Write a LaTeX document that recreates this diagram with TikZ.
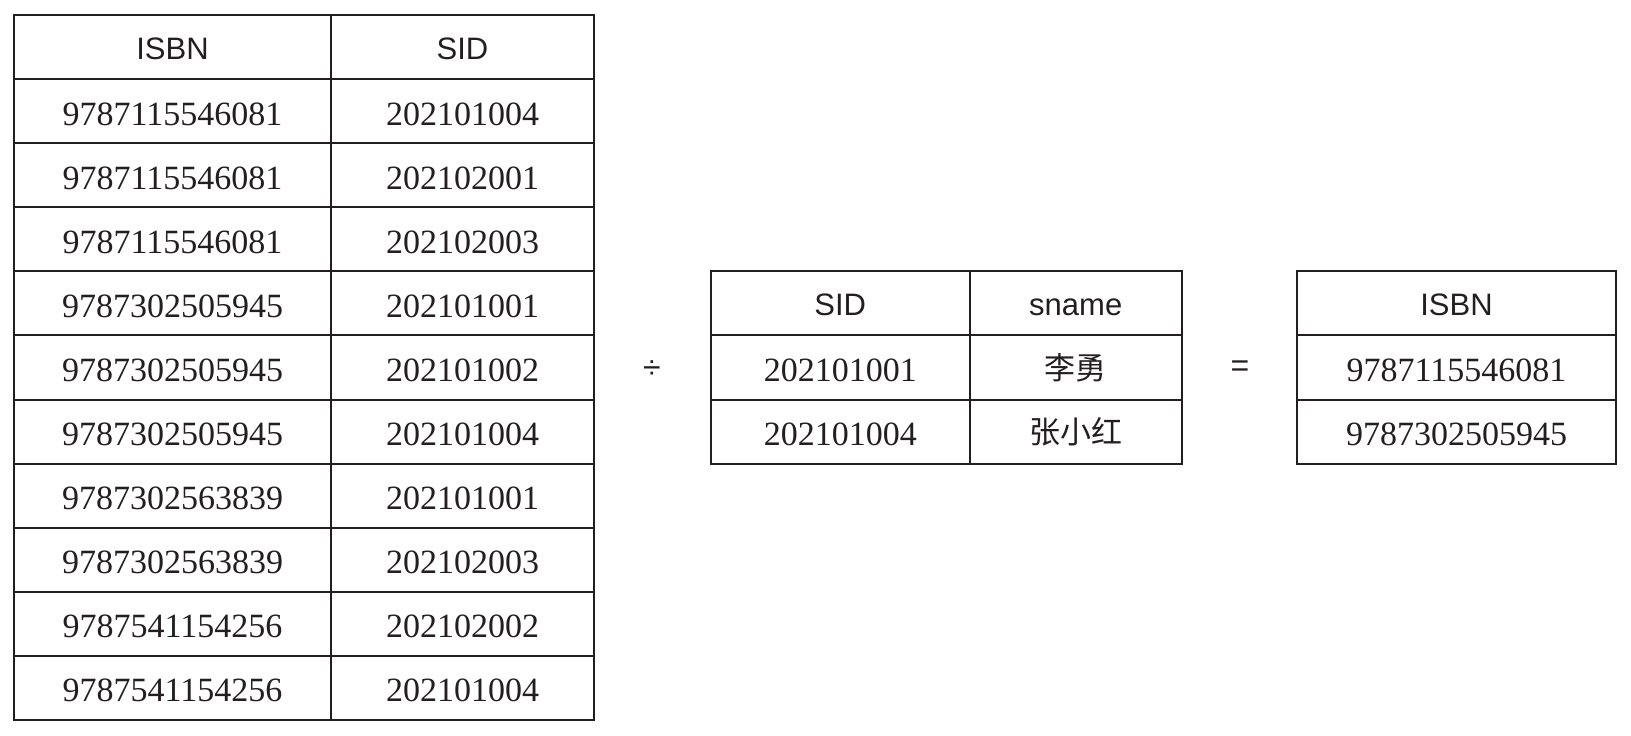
\documentclass[tikz,border=0pt]{standalone}
\usepackage{fontspec}
\setmainfont{Liberation Serif}
\setsansfont{Liberation Sans}
\newfontfamily\cjk{Noto Sans CJK SC}
\definecolor{ink}{HTML}{231F20}
\begin{document}
\begin{tikzpicture}[x=1pt,y=-1pt,
  cell/.style={draw=ink, line width=2pt, rectangle, inner sep=0pt, outer sep=0pt,
    minimum height=64.09pt, text=ink, anchor=center},
  hd/.style={font=\sffamily\fontsize{31}{36}\selectfont, text height=24pt, text depth=0pt},
  num/.style={font=\rmfamily\fontsize{34}{38}\selectfont, text height=28pt, text depth=0pt},
  zh/.style={font=\cjk\fontsize{31}{36}\selectfont},
  op/.style={text=ink, inner sep=0pt, font=\sffamily\fontsize{32}{36}\selectfont}]
\useasboundingbox (0,0) rectangle (1631,736);
% left table
\def\rh{64.09}
\node[cell,hd,minimum width=317pt] (L0a) at (172.5,{15+0.5*\rh}) {ISBN};
\node[cell,hd,minimum width=263pt] (L0b) at (462.5,{15+0.5*\rh}) {SID};
\foreach \i/\a/\b in {1/9787115546081/202101004,2/9787115546081/202102001,
  3/9787115546081/202102003,4/9787302505945/202101001,5/9787302505945/202101002,
  6/9787302505945/202101004,7/9787302563839/202101001,8/9787302563839/202102003,
  9/9787541154256/202102002,10/9787541154256/202101004}{
  \node[cell,num,minimum width=317pt] (L\i a) at (172.5,{15+(\i+0.5)*\rh}) {\a};
  \node[cell,num,minimum width=263pt] (L\i b) at (462.5,{15+(\i+0.5)*\rh}) {\b};
}
% middle table
\node[cell,hd,minimum width=258.5pt] (M0a) at (840.25,{15+4.5*\rh}) {SID};
\node[cell,hd,minimum width=212.5pt] (M0b) at (1075.75,{15+4.5*\rh}) {sname};
\node[cell,num,minimum width=258.5pt] (M1a) at (840.25,{15+5.5*\rh}) {202101001};
\node[cell,zh,minimum width=212.5pt] (M1b) at (1075.75,{15+5.5*\rh}) {李勇};
\node[cell,num,minimum width=258.5pt] (M2a) at (840.25,{15+6.5*\rh}) {202101004};
\node[cell,zh,minimum width=212.5pt] (M2b) at (1075.75,{15+6.5*\rh}) {张小红};
% right table
\node[cell,hd,minimum width=319pt] (R0) at (1456.5,{15+4.5*\rh}) {ISBN};
\node[cell,num,minimum width=319pt] (R1) at (1456.5,{15+5.5*\rh}) {9787115546081};
\node[cell,num,minimum width=319pt] (R2) at (1456.5,{15+6.5*\rh}) {9787302505945};
% operators
\node[op] (div) at (652,370) {÷};
\node[op] (eq) at (1240,368.5) {=};
\end{tikzpicture}
\end{document}
